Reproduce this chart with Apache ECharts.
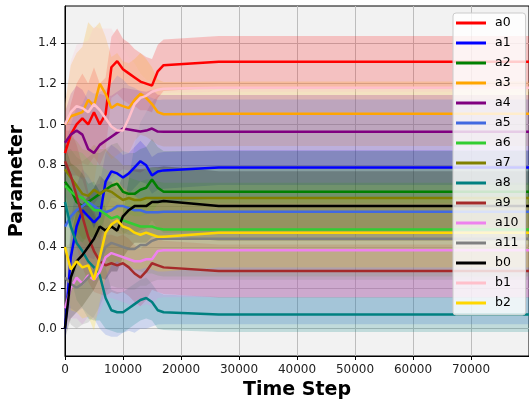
<!DOCTYPE html>
<html><head><meta charset="utf-8">
<script src="https://cdn.jsdelivr.net/npm/echarts@6/dist/echarts.min.js"></script>
<style>html,body{margin:0;padding:0;background:#fff}#c{width:529px;height:408px}</style>
</head><body><div id="c"></div>
<script>
// ---- data ----
const timeSteps = [0,1000,2000,3000,4000,5000,6000,7000,8000,9000,10000,11000,12000,13000,14000,15000,16000,17000,26500,80000];
const seriesNames = ['a0','a1','a2','a3','a4','a5','a6','a7','a8','a9','a10','a11','b0','b1','b2'];
const seriesColors = ['#ff0000','#0000ff','#008000','#ffa500','#800080','#4169e1','#32cd32','#808000','#008080','#a52a2a','#ee82ee','#808080','#000000','#ffc0cb','#ffd700'];

const mean_a0 = [0.86,0.95,1.0,1.03,1.0,1.06,1.0,1.05,1.28,1.31,1.27,1.25,1.23,1.21,1.2,1.19,1.26,1.29,1.307,1.307];
const mean_a1 = [0.0,0.35,0.5,0.58,0.55,0.52,0.55,0.72,0.77,0.76,0.74,0.76,0.79,0.82,0.8,0.75,0.77,0.775,0.789,0.789];
const mean_a2 = [0.72,0.68,0.62,0.6,0.62,0.64,0.66,0.68,0.7,0.71,0.67,0.66,0.66,0.68,0.69,0.73,0.69,0.67,0.67,0.67];
const mean_a3 = [1.0,1.04,1.05,1.06,1.12,1.09,1.2,1.15,1.08,1.1,1.09,1.08,1.12,1.15,1.13,1.1,1.06,1.05,1.052,1.052];
const mean_a4 = [0.91,0.95,0.97,0.95,0.88,0.86,0.9,0.92,0.94,0.96,0.98,0.975,0.97,0.965,0.97,0.98,0.965,0.964,0.964,0.964];
const mean_a5 = [0.5,0.55,0.58,0.6,0.62,0.6,0.58,0.57,0.58,0.6,0.6,0.59,0.58,0.58,0.57,0.57,0.57,0.572,0.572,0.572];
const mean_a6 = [0.7,0.67,0.65,0.64,0.61,0.58,0.58,0.56,0.54,0.55,0.53,0.52,0.51,0.5,0.5,0.5,0.49,0.485,0.485,0.485];
const mean_a7 = [0.78,0.74,0.7,0.66,0.65,0.68,0.66,0.68,0.67,0.65,0.63,0.64,0.63,0.63,0.64,0.64,0.64,0.64,0.64,0.64];
const mean_a8 = [0.62,0.5,0.42,0.38,0.33,0.3,0.26,0.15,0.09,0.08,0.08,0.1,0.12,0.14,0.15,0.13,0.09,0.08,0.069,0.069];
const mean_a9 = [0.82,0.75,0.65,0.55,0.45,0.38,0.33,0.31,0.32,0.31,0.32,0.3,0.27,0.25,0.28,0.32,0.31,0.3,0.282,0.282];
const mean_a10 = [0.1,0.2,0.25,0.22,0.26,0.24,0.28,0.35,0.37,0.36,0.35,0.34,0.33,0.33,0.34,0.34,0.38,0.384,0.384,0.384];
const mean_a11 = [0.25,0.22,0.2,0.22,0.25,0.28,0.33,0.4,0.42,0.41,0.4,0.39,0.39,0.41,0.41,0.43,0.44,0.44,0.44,0.44];
const mean_b0 = [0.0,0.25,0.33,0.36,0.4,0.44,0.5,0.48,0.5,0.48,0.55,0.58,0.6,0.6,0.6,0.62,0.62,0.625,0.601,0.601];
const mean_b1 = [1.0,1.06,1.09,1.08,1.06,1.1,1.07,1.03,0.99,0.97,0.97,1.03,1.1,1.13,1.14,1.16,1.17,1.175,1.18,1.18];
const mean_b2 = [0.4,0.29,0.33,0.3,0.31,0.24,0.35,0.47,0.51,0.53,0.5,0.49,0.47,0.46,0.47,0.46,0.45,0.45,0.469,0.469];

const std_a0 = [0.1,0.15,0.2,0.22,0.2,0.22,0.2,0.18,0.15,0.16,0.15,0.15,0.14,0.14,0.13,0.13,0.13,0.126,0.126,0.126];
const std_a1 = [0.05,0.18,0.2,0.2,0.2,0.18,0.16,0.14,0.13,0.12,0.11,0.1,0.1,0.1,0.09,0.09,0.09,0.09,0.085,0.085];
const std_a2 = [0.15,0.2,0.22,0.22,0.22,0.22,0.2,0.2,0.2,0.2,0.2,0.2,0.2,0.2,0.2,0.2,0.2,0.2,0.2,0.2];
const std_a3 = [0.1,0.25,0.3,0.32,0.38,0.38,0.3,0.28,0.25,0.25,0.22,0.22,0.2,0.2,0.19,0.18,0.16,0.158,0.158,0.158];
const std_a4 = [0.15,0.2,0.22,0.22,0.24,0.25,0.25,0.22,0.2,0.2,0.2,0.2,0.2,0.2,0.19,0.19,0.18,0.18,0.18,0.18];
const std_a5 = [0.4,0.45,0.5,0.5,0.55,0.55,0.58,0.6,0.62,0.64,0.62,0.6,0.6,0.58,0.57,0.56,0.55,0.55,0.55,0.55];
const std_a6 = [0.15,0.2,0.22,0.22,0.22,0.22,0.22,0.22,0.22,0.22,0.22,0.22,0.22,0.22,0.23,0.23,0.23,0.23,0.23,0.23];
const std_a7 = [0.15,0.2,0.22,0.22,0.22,0.22,0.22,0.2,0.18,0.18,0.17,0.16,0.16,0.15,0.15,0.15,0.15,0.15,0.15,0.15];
const std_a8 = [0.2,0.25,0.28,0.28,0.28,0.26,0.22,0.15,0.1,0.1,0.1,0.1,0.1,0.1,0.1,0.09,0.09,0.087,0.086,0.086];
const std_a9 = [0.15,0.22,0.25,0.25,0.22,0.2,0.16,0.15,0.14,0.14,0.14,0.14,0.14,0.14,0.14,0.13,0.13,0.13,0.13,0.13];
const std_a10 = [0.1,0.15,0.2,0.2,0.2,0.2,0.2,0.2,0.22,0.22,0.22,0.22,0.22,0.22,0.22,0.23,0.23,0.23,0.23,0.23];
const std_a11 = [0.15,0.2,0.2,0.2,0.22,0.22,0.22,0.22,0.21,0.21,0.2,0.2,0.2,0.2,0.2,0.2,0.2,0.2,0.2,0.2];
const std_b0 = [0.05,0.2,0.25,0.25,0.25,0.25,0.25,0.24,0.22,0.2,0.2,0.19,0.18,0.18,0.18,0.17,0.17,0.17,0.17,0.17];
const std_b1 = [0.1,0.25,0.3,0.32,0.35,0.38,0.4,0.44,0.48,0.45,0.4,0.3,0.2,0.12,0.08,0.05,0.03,0.02,0.02,0.02];
const std_b2 = [0.1,0.2,0.25,0.25,0.25,0.25,0.22,0.22,0.2,0.2,0.19,0.18,0.18,0.17,0.17,0.17,0.17,0.17,0.17,0.17];

const yTicks = [0.0,0.2,0.4,0.6,0.8,1.0,1.2,1.4];

// ---- build ----
const means = [mean_a0,mean_a1,mean_a2,mean_a3,mean_a4,mean_a5,mean_a6,mean_a7,mean_a8,mean_a9,mean_a10,mean_a11,mean_b0,mean_b1,mean_b2];
const stds = [std_a0,std_a1,std_a2,std_a3,std_a4,std_a5,std_a6,std_a7,std_a8,std_a9,std_a10,std_a11,std_b0,std_b1,std_b2];

const series = [];
seriesNames.forEach((n, i) => {
  const lo = means[i].map((m, k) => m - stds[i][k]);
  const hi = means[i].map((m, k) => m + stds[i][k]);
  series.push({
    name: n + '_band', type: 'custom', silent: true, z: 1, clip: true,
    data: [[timeSteps[0], lo[0]]],
    encode: { x: 0, y: 1 },
    renderItem: (params, api) => {
      const pts = [];
      for (let k = 0; k < timeSteps.length; k++) pts.push(api.coord([timeSteps[k], hi[k]]));
      for (let k = timeSteps.length - 1; k >= 0; k--) pts.push(api.coord([timeSteps[k], lo[k]]));
      return { type: 'polygon', shape: { points: pts },
        style: { fill: seriesColors[i], opacity: 0.2 } };
    }
  });
});
seriesNames.forEach((n, i) => {
  series.push({
    name: n, type: 'line', smooth: false,
    data: timeSteps.map((t, k) => [t, means[i][k]]),
    symbol: 'none', showSymbol: false, z: 3,
    lineStyle: { color: seriesColors[i], width: 2.5 },
    itemStyle: { color: seriesColors[i] }
  });
});

const chart = echarts.init(document.getElementById('c'), null, { renderer: 'canvas' });
const font = 'DejaVu Sans';
chart.setOption({
  animation: false,
  color: seriesColors,
  grid: {
    left: 62, top: 6, bottom: 52, right: -7,
    show: true, backgroundColor: '#f2f2f2', borderColor: '#000', borderWidth: 1
  },
  legend: {
    data: seriesNames.map(n => ({ name: n, icon: 'rect' })),
    orient: 'vertical', left: 453, top: 13,
    itemWidth: 30, itemHeight: 3, itemGap: 6,
    padding: [3, 7, 5, 3],
    backgroundColor: 'rgba(255,255,255,0.8)', borderColor: '#cccccc', borderWidth: 1, borderRadius: 3,
    textStyle: { fontFamily: font, fontSize: 12.5, color: '#000', lineHeight: 14, padding: [0, 0, 0, 4] }
  },
  xAxis: {
    type: 'value', min: 0, max: 80000, interval: 10000,
    name: 'Time Step', nameLocation: 'middle', nameGap: 24,
    nameTextStyle: { fontFamily: font, fontSize: 19, fontWeight: 'bold', color: '#000' },
    axisLine: { show: true, onZero: false, lineStyle: { color: '#000', width: 1 } },
    axisTick: { show: true, length: 4, lineStyle: { color: '#000' } },
    axisLabel: { fontFamily: font, fontSize: 12, color: '#222', margin: 8, showMaxLabel: false,
      formatter: v => String(Math.round(v)) },
    splitLine: { show: true, lineStyle: { color: '#bdbdbd', width: 1 } }
  },
  yAxis: {
    type: 'value', min: -0.134, max: 1.58,
    name: 'Parameter', nameLocation: 'middle', nameGap: 37,
    nameTextStyle: { fontFamily: font, fontSize: 19, fontWeight: 'bold', color: '#000' },
    axisLine: { show: true, onZero: false, lineStyle: { color: '#000', width: 1 } },
    axisTick: { show: true, length: 4, lineStyle: { color: '#000' }, customValues: yTicks },
    axisLabel: { fontFamily: font, fontSize: 12, color: '#222', margin: 8, customValues: yTicks,
      formatter: v => v.toFixed(1) },
    splitLine: { show: true, lineStyle: { color: '#bdbdbd', width: 1 } }
  },
  series: series
});
</script>
</body></html>
